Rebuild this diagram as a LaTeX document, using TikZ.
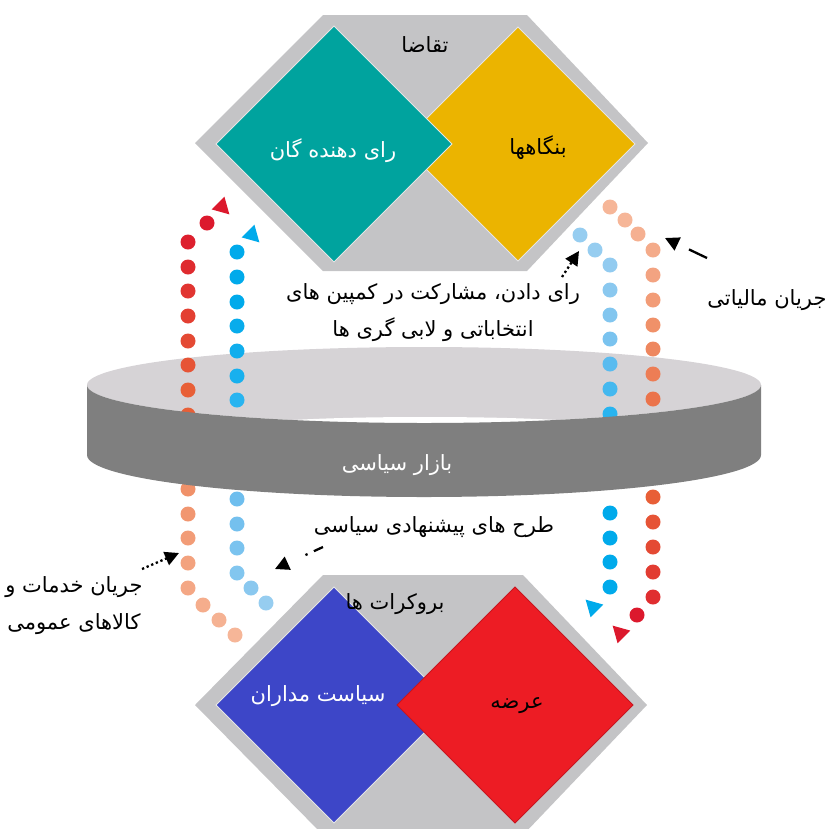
\documentclass[tikz,border=0pt]{standalone}
\usepackage{fontspec}
\newfontfamily\fa[Script=Arabic]{DejaVu Sans}
\TeXXeTstate=1
\usetikzlibrary{arrows.meta}
\definecolor{hexgray}{RGB}{196,196,198}
\definecolor{tealc}{RGB}{0,163,158}
\definecolor{yellowc}{RGB}{235,180,0}
\definecolor{bluec}{RGB}{61,70,200}
\definecolor{redc}{RGB}{237,28,36}
\definecolor{redline}{RGB}{200,20,30}
\definecolor{ringtop}{RGB}{214,211,214}
\definecolor{ringband}{RGB}{127,127,127}
\definecolor{LRa}{RGB}{220,25,45}
\definecolor{LRb}{RGB}{232,95,55}
\definecolor{LRc}{RGB}{240,145,105}
\definecolor{LRd}{RGB}{246,182,152}
\definecolor{LBa}{RGB}{0,170,235}
\definecolor{LBb}{RGB}{40,180,240}
\definecolor{LBc}{RGB}{110,190,238}
\definecolor{LBd}{RGB}{150,205,240}
\begin{document}
\begin{tikzpicture}[x=1pt,y=-1pt,
  lbl/.style={font=\fa\fontsize{21}{37}\selectfont, inner sep=0pt, align=center},
  ann/.style={-{Triangle[length=14pt,width=14pt]}, line width=2.3pt},
  dotl/.style={dash pattern=on 2.3pt off 2.7pt},
  diamondline/.style={draw=white!80!gray, line width=1pt},
  flowdot/.style={radius=7.5}]
\useasboundingbox (0,0) rectangle (832,828);
\clip (0,0) rectangle (832,828);
% top hexagon
\fill[hexgray] (323,15) -- (527,15) -- (648,143) -- (527,271) -- (323,271) -- (195,143) -- cycle;
\filldraw[fill=yellowc, diamondline] (518,27) -- (635,144) -- (518,261) -- (401,144) -- cycle;
\filldraw[fill=tealc, diamondline] (334,26) -- (452,144) -- (334,262) -- (216,144) -- cycle;
\node[lbl] (demand) at (425,45) {\beginR تقاضا\endR};
\node[lbl, text=white] (voters) at (333,151) {\beginR رای دهنده گان\endR};
\node[lbl] (firms) at (538,148) {\beginR بنگاهها\endR};
% bottom hexagon
\fill[hexgray] (323,575) -- (523,575) -- (647,705) -- (523,835) -- (323,835) -- (195,705) -- cycle;
\filldraw[fill=bluec, diamondline] (334,587) -- (452,705) -- (334,823) -- (216,705) -- cycle;
\filldraw[fill=redc, draw=redline, line width=1pt] (515,587) -- (633,705) -- (515,823) -- (397,705) -- cycle;
\node[lbl] (bureau) at (395,604) {\beginR بروکرات ها\endR};
\node[lbl, text=white] (politicians) at (318,696) {\beginR سیاست مداران\endR};
\node[lbl] (supply) at (517,706) {\beginR عرضه\endR};
% ring top
\fill[ringtop] (424,385) ellipse [x radius=337, y radius=38];
\fill[white] (425,424) ellipse [x radius=160, y radius=7];
% flow dots: left red
\foreach \x/\y/\c in {207/223/LRa, 188/242/LRa!90!LRb, 188/267/LRa!75!LRb, 188/291/LRa!60!LRb, 188/316/LRa!45!LRb, 188/341/LRa!30!LRb, 188/365/LRa!15!LRb, 188/390/LRb, 188/415/LRb, 188/489/LRc, 188/514/LRc!85!LRd, 188/538/LRc!70!LRd, 188/563/LRc!55!LRd, 188/588/LRc!40!LRd, 203/605/LRc!25!LRd, 219/620/LRc!10!LRd, 235/635/LRd}
  \fill[\c] (\x,\y) circle[flowdot];
% left blue
\foreach \x/\y/\c in {237/252/LBa, 237/277/LBa, 237/302/LBa, 237/326/LBa!80!LBb, 237/351/LBa!60!LBb, 237/376/LBa!40!LBb, 237/400/LBb, 237/425/LBb, 237/499/LBc, 237/524/LBc!85!LBd, 237/548/LBc!70!LBd, 237/573/LBc!50!LBd, 251/588/LBc!30!LBd, 266/603/LBd}
  \fill[\c] (\x,\y) circle[flowdot];
% right blue
\foreach \x/\y/\c in {580/235/LBd, 595/250/LBd, 610/265/LBd!90!LBc, 610/290/LBd!70!LBc, 610/315/LBd!50!LBc, 610/339/LBd!30!LBc, 610/364/LBc!70!LBb, 610/389/LBc!40!LBb, 610/414/LBb, 610/513/LBa, 610/538/LBa, 610/562/LBa, 610/587/LBa}
  \fill[\c] (\x,\y) circle[flowdot];
% right red
\foreach \x/\y/\c in {610/207/LRd, 625/220/LRd, 638/234/LRd!85!LRc, 653/250/LRd!70!LRc, 653/275/LRd!50!LRc, 653/300/LRd!30!LRc, 653/325/LRc, 653/349/LRc!80!LRb, 653/374/LRc!60!LRb, 653/399/LRc!40!LRb, 653/423/LRb, 653/497/LRb, 653/522/LRb!85!LRa, 653/547/LRb!70!LRa, 653/572/LRb!50!LRa, 653/597/LRb!30!LRa, 637/615/LRa}
  \fill[\c] (\x,\y) circle[flowdot];
% flow arrowheads
\fill[LRa, shift={(223,208)}, rotate=-45] (9,0) -- (-7,9) -- (-7,-9) -- cycle;
\fill[LBa, shift={(253,236)}, rotate=-45] (9,0) -- (-7,9) -- (-7,-9) -- cycle;
\fill[LBa, shift={(592,606)}, rotate=135] (9,0) -- (-7,9) -- (-7,-9) -- cycle;
\fill[LRa, shift={(619,632)}, rotate=135] (9,0) -- (-7,9) -- (-7,-9) -- cycle;
% ring band
\fill[ringband] (87,385) arc[start angle=180, end angle=0, x radius=337, y radius=38] -- (761,455) arc[start angle=0, end angle=180, x radius=337, y radius=42] -- cycle;
\node[lbl, text=white] (market) at (397,465) {\beginR بازار سیاسی\endR};
% labels
\node[lbl] (voting) at (433,313) {\beginR رای دادن، مشارکت در کمپین های\endR\\\beginR انتخاباتی و لابی گری ها\endR};
\node[lbl] (tax) at (767,300) {\beginR جریان مالیاتی\endR};
\node[lbl] (proposals) at (434,527) {\beginR طرح های پیشنهادی سیاسی\endR};
\node[lbl] (goods) at (74,606) {\beginR جریان خدمات و\endR\\\beginR کالاهای عمومی\endR};
% annotation arrows
\coordinate (a1s) at (562,277); \coordinate (a1e) at (579,251);
\coordinate (a2s) at (707,258); \coordinate (a2e) at (665,238);
\coordinate (a3s) at (142,569); \coordinate (a3e) at (179,553);
\coordinate (a4s) at (323,547); \coordinate (a4e) at (275,569);
\draw[ann, dotl] (a1s) -- (a1e);
\draw[ann, dash pattern=on 20pt off 30pt] (a2s) -- (a2e);
\draw[ann, dotl] (a3s) -- (a3e);
\draw[ann, dash pattern=on 10pt off 7pt on 2.3pt off 40pt] (a4s) -- (a4e);
\end{tikzpicture}
\end{document}
